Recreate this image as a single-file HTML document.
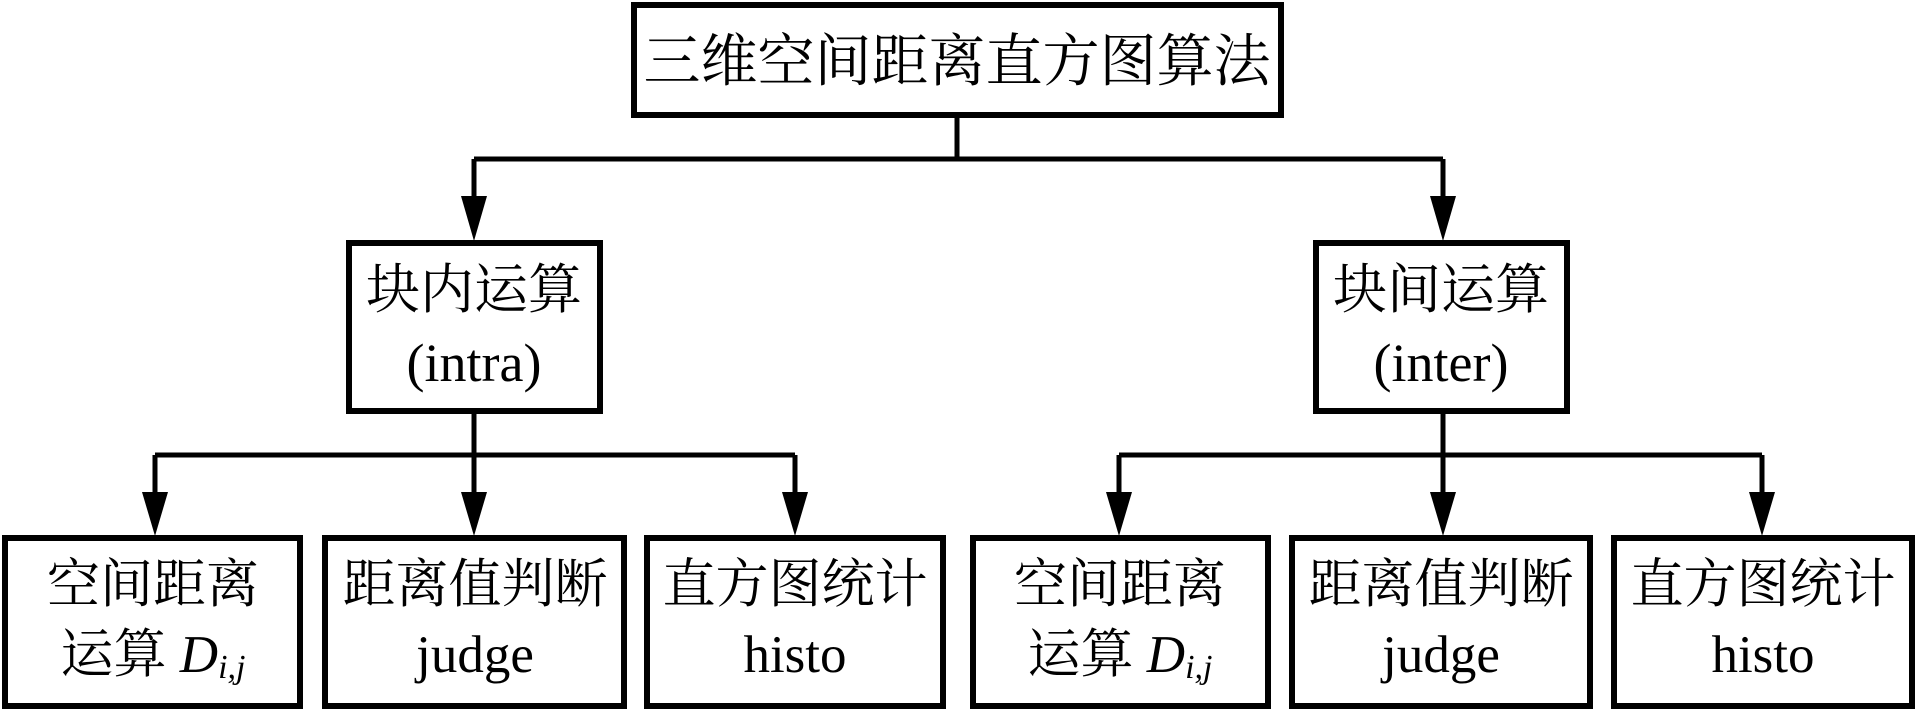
<!DOCTYPE html>
<html><head><meta charset="utf-8"><style>
html,body{margin:0;padding:0;background:#fff;}
svg{display:block}
text{font-family:"Liberation Serif","Noto Serif CJK SC",serif;fill:#000;text-anchor:middle;dominant-baseline:central}
</style></head><body>
<svg width="1917" height="711" viewBox="0 0 1917 711" xmlns="http://www.w3.org/2000/svg">
<g fill="none" stroke="#000" stroke-width="6">
<rect x="634" y="5" width="647" height="110"/>
<rect x="349" y="243" width="251" height="168"/>
<rect x="1316" y="243" width="251" height="168"/>
<rect x="5" y="538" width="295" height="168"/>
<rect x="325" y="538" width="299" height="168"/>
<rect x="647" y="538" width="296" height="168"/>
<rect x="973" y="538" width="295" height="168"/>
<rect x="1292" y="538" width="298" height="168"/>
<rect x="1614" y="538" width="298" height="168"/>
</g>
<g fill="none" stroke="#000" stroke-width="5">
<path d="M957 116V159M474 159H1443M474 159V200M1443 159V200"/>
<path d="M474 412V455M155 455H795M155 455V495M474 455V495M795 455V495"/>
<path d="M1443 412V455M1119 455H1762M1119 455V495M1443 455V495M1762 455V495"/>
</g>
<g fill="#000">
<polygon points="461,196 487,196 474,241"/>
<polygon points="1430,196 1456,196 1443,241"/>
<polygon points="142,492 168,492 155,536"/>
<polygon points="461,492 487,492 474,536"/>
<polygon points="782,492 808,492 795,536"/>
<polygon points="1106,492 1132,492 1119,536"/>
<polygon points="1430,492 1456,492 1443,536"/>
<polygon points="1749,492 1775,492 1762,536"/>
</g>
<text x="957" y="62" font-size="57">三维空间距离直方图算法</text>
<text x="474" y="290" font-size="54">块内运算</text>
<text x="474" y="363" font-size="54">(intra)</text>
<text x="1441" y="290" font-size="54">块间运算</text>
<text x="1441" y="363" font-size="54">(inter)</text>
<g font-size="53">
<text x="153" y="585">空间距离</text>
<text x="153" y="655">运算 <tspan font-style="italic">D</tspan><tspan font-style="italic" font-size="34" dy="12">i,j</tspan></text>
<text x="475" y="585">距离值判断</text>
<text x="475" y="655">judge</text>
<text x="795" y="585">直方图统计</text>
<text x="795" y="655">histo</text>
<text x="1120" y="585">空间距离</text>
<text x="1120" y="655">运算 <tspan font-style="italic">D</tspan><tspan font-style="italic" font-size="34" dy="12">i,j</tspan></text>
<text x="1441" y="585">距离值判断</text>
<text x="1441" y="655">judge</text>
<text x="1763" y="585">直方图统计</text>
<text x="1763" y="655">histo</text>
</g>
</svg>
</body></html>
